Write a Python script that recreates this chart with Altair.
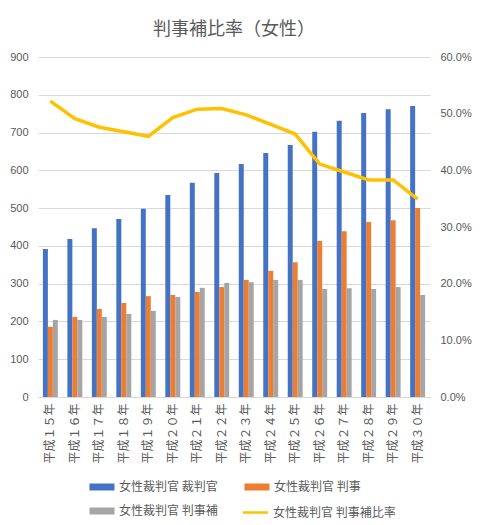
import altair as alt
import pandas as pd

# 年度
nendo = ["平成１５年", "平成１６年", "平成１７年", "平成１８年", "平成１９年", "平成２０年",
         "平成２１年", "平成２２年", "平成２３年", "平成２４年", "平成２５年", "平成２６年",
         "平成２７年", "平成２８年", "平成２９年", "平成３０年"]

# 女性裁判官の人数
saibankan = [392, 418, 447, 471, 498, 535, 567, 593, 617, 646, 667, 702, 731, 752, 762, 770]
hanji = [186, 212, 233, 249, 267, 270, 278, 291, 310, 334, 357, 413, 439, 463, 468, 500]
hanjiho = [204, 204, 212, 220, 228, 265, 289, 302, 304, 310, 310, 286, 288, 286, 291, 270]
# 判事補比率
hiritsu = [0.522, 0.491, 0.476, 0.468, 0.460, 0.493, 0.508, 0.509, 0.498, 0.481, 0.464,
           0.411, 0.397, 0.383, 0.383, 0.349]

s1 = "女性裁判官 裁判官"
s2 = "女性裁判官 判事"
s3 = "女性裁判官 判事補"
s4 = "女性裁判官 判事補比率"
bar_colors = ["#4472C4", "#ED7D31", "#A5A5A5"]
line_color = "#FFC000"

left_ticks = [0, 100, 200, 300, 400, 500, 600, 700, 800, 900]
right_ticks = [0, 0.1, 0.2, 0.3, 0.4, 0.5, 0.6]

font = "Noto Sans CJK JP"
num_font = "Liberation Sans"
gray = "#595959"

rows = []
for name, vals in [(s1, saibankan), (s2, hanji), (s3, hanjiho)]:
    for n, v in zip(nendo, vals):
        rows.append({"年": n, "系列": name, "人数": v})
bars_df = pd.DataFrame(rows)
line_df = pd.DataFrame({"年": nendo, "系列": s4, "比率": hiritsu})

# 凡例の記号（横長の四角と線）
bar_path = "M-2.5,-0.7L2.5,-0.7L2.5,0.7L-2.5,0.7Z"
line_path = "M-2.5,0L2.5,0"

x = alt.X(
    "年:N", sort=nendo, title=None,
    scale=alt.Scale(paddingInner=0.39, paddingOuter=0.2),
    axis=alt.Axis(labelAngle=-90, ticks=False, domainColor="#D9D9D9", labelPadding=6,
                  labelFontSize=12, labelColor=gray, labelFont=font, grid=False),
)

bars = alt.Chart(bars_df).mark_bar().encode(
    x=x,
    xOffset=alt.XOffset("系列:N", sort=[s1, s2, s3]),
    y=alt.Y("人数:Q", title=None, scale=alt.Scale(domain=[0, 900]),
            axis=alt.Axis(values=left_ticks, domain=False, ticks=False, labelPadding=10,
                          gridColor="#D9D9D9", labelColor=gray, labelFontSize=11,
                          labelFont=num_font)),
    fill=alt.Fill(
        "系列:N", scale=alt.Scale(domain=[s1, s2, s3], range=bar_colors),
        legend=alt.Legend(
            title=None, orient="none", legendX=58, legendY=424, direction="horizontal",
            columns=2, columnPadding=26, rowPadding=12, padding=0,
            symbolType=bar_path, symbolSize=100, symbolOffset=0, symbolStrokeWidth=0,
            labelFontSize=12, labelColor=gray, labelFont=font, labelOffset=11, labelLimit=300,
        ),
    ),
)

line = alt.Chart(line_df).mark_line(strokeWidth=3.5).encode(
    x=alt.X("年:N", sort=nendo),
    y=alt.Y("比率:Q", title=None, scale=alt.Scale(domain=[0, 0.6]),
            axis=alt.Axis(orient="right", values=right_ticks, format=".1%", grid=False,
                          domain=False, ticks=False, labelPadding=10,
                          labelColor=gray, labelFontSize=11, labelFont=num_font)),
    stroke=alt.Stroke(
        "系列:N", scale=alt.Scale(domain=[s4], range=[line_color]),
        legend=alt.Legend(
            title=None, orient="none", legendX=211, legendY=449, padding=0,
            symbolType=line_path, symbolSize=100, symbolStrokeWidth=2.5, symbolOffset=0,
            labelFontSize=12, labelColor=gray, labelFont=font, labelOffset=11, labelLimit=300,
        ),
    ),
)

chart = alt.layer(bars, line).resolve_scale(y="independent").properties(
    width=392, height=340,
    padding={"left": 1, "top": 13, "right": 0, "bottom": 0},
    title=alt.TitleParams("判事補比率（女性）", fontSize=18, color=gray, font=font,
                          fontWeight="normal", anchor="middle", offset=12),
).configure_view(stroke=None)

chart.save("out.html", embed_options={"renderer": "svg", "actions": False})
